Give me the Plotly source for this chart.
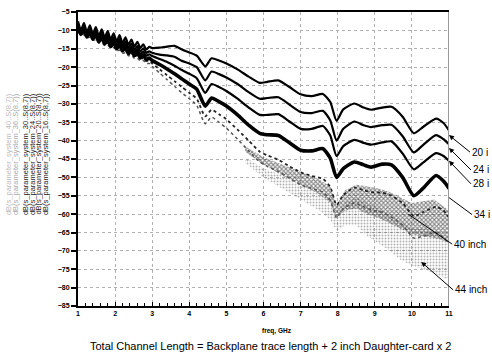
import plotly.graph_objects as go

# ---------------- data ----------------
freq = [1.00, 1.08, 1.16, 1.24, 1.32, 1.40, 1.48, 1.56, 1.64, 1.72, 1.80, 1.88, 1.96, 2.04, 2.12, 2.20, 2.28,
        2.36, 2.44, 2.52, 2.60, 2.68, 2.76, 2.84, 2.92, 3.0,
        3.2, 3.4, 3.6, 3.8, 4.0, 4.2, 4.43, 4.6, 4.8, 5.0, 5.3, 5.6, 5.9, 6.1, 6.4, 6.7, 7.0, 7.3, 7.6, 7.8, 7.97,
        8.15, 8.45, 8.7, 8.9, 9.2, 9.45, 9.75, 10.05, 10.3, 10.65, 10.85, 11.0]

s20 = [-7.5, -10.0, -8.0, -10.5, -8.6, -11.0, -9.1, -11.5, -9.7, -12.0, -10.2, -12.5, -10.8, -13.0, -11.3, -13.5,
       -11.9, -13.9, -12.5, -14.4, -13.1, -14.8, -13.8, -15.2, -14.5, -14.8,
       -14.7, -14.4, -14.2, -15.2, -16.0, -16.9, -19.8, -17.6, -18.2, -19.0, -20.6, -22.6, -24.3, -24.0, -23.6,
       -25.4, -27.4, -27.9, -27.3, -29.5, -34.6, -31.5, -29.9, -31.0, -31.6, -31.0, -30.8, -33.5, -38.0, -36.3,
       -34.0, -35.2, -37.2]
s24 = [-8.2, -10.6, -8.8, -11.1, -9.4, -11.7, -10.0, -12.2, -10.6, -12.8, -11.2, -13.3, -11.8, -13.8, -12.4, -14.3,
       -13.0, -14.8, -13.6, -15.3, -14.3, -15.7, -14.9, -16.1, -15.7, -16.1,
       -16.6, -16.8, -17.2, -18.3, -19.0, -20.0, -23.6, -21.2, -21.9, -22.8, -24.6, -26.8, -28.6, -28.4, -28.2,
       -30.2, -32.2, -32.5, -31.9, -34.5, -40.0, -36.8, -34.8, -35.8, -36.3, -35.8, -35.7, -38.8, -43.2, -41.2,
       -38.5, -39.6, -41.0]
s28 = [-8.6, -10.9, -9.3, -11.5, -9.9, -12.1, -10.6, -12.7, -11.2, -13.3, -11.9, -13.9, -12.5, -14.4, -13.2, -15.0,
       -13.8, -15.5, -14.5, -16.0, -15.1, -16.5, -15.8, -16.9, -16.5, -17.0,
       -17.8, -18.6, -19.6, -20.8, -21.8, -23.0, -27.0, -24.6, -25.4, -26.5, -28.6, -31.0, -33.0, -33.0, -32.8,
       -34.8, -36.8, -36.8, -36.0, -38.6, -44.2, -41.5, -39.8, -40.6, -41.1, -40.5, -40.2, -43.5, -47.8, -46.0,
       -43.4, -44.2, -45.5]
s34 = [-9.0, -11.1, -9.7, -11.8, -10.4, -12.4, -11.1, -13.1, -11.8, -13.7, -12.5, -14.4, -13.2, -15.0, -13.9, -15.6,
       -14.6, -16.3, -15.3, -16.9, -16.0, -17.5, -16.7, -18.0, -17.5, -18.2,
       -19.3, -20.5, -21.8, -23.2, -24.6, -26.0, -30.6, -28.4, -29.4, -30.6, -33.0, -35.8, -38.0, -38.4, -38.6,
       -40.6, -42.6, -42.8, -42.2, -44.8, -50.0, -47.6, -45.8, -46.6, -47.2, -46.4, -46.6, -50.0, -55.0, -53.0,
       -49.5, -51.0, -53.0]
s40 = [-9.8, -10.8, -10.6, -11.5, -11.3, -12.2, -12.0, -12.9, -12.7, -13.6, -13.4, -14.3, -14.1, -15.0, -14.8, -15.6,
       -15.5, -16.3, -16.2, -17.0, -16.9, -17.6, -17.6, -18.3, -18.3, -19.0,
       -20.6, -22.2, -23.8, -25.4, -27.0, -28.6, -33.4, -31.6, -32.8, -34.2, -37.0, -40.0, -43.0, -44.0, -45.2,
       -47.0, -48.6, -49.6, -50.4, -52.6, -57.5, -54.8, -52.8, -53.5, -54.0, -54.2, -55.0, -57.0, -60.5, -59.5,
       -58.0, -59.0, -61.0]
s44 = [-10.4, -11.2, -11.2, -12.0, -11.9, -12.7, -12.6, -13.4, -13.3, -14.1, -14.0, -14.8, -14.7, -15.5, -15.4, -16.2,
       -16.1, -16.9, -16.8, -17.6, -17.5, -18.3, -18.2, -19.0, -19.0, -19.8,
       -21.6, -23.4, -25.2, -27.0, -28.6, -30.4, -35.4, -33.6, -35.0, -36.6, -39.6, -42.8, -45.8, -47.0, -48.4,
       -50.2, -52.0, -53.0, -54.0, -56.2, -61.0, -58.5, -57.0, -58.0, -58.8, -59.5, -60.8, -63.0, -66.5, -66.0,
       -65.0, -66.5, -68.0]

# noisy envelopes of the two longest channels (upper / lower edge of the scatter)
band_freq = [5.5, 6.0, 6.5, 7.0, 7.5, 7.8, 7.97, 8.2, 8.5, 8.8, 9.1, 9.4, 9.7, 10.0, 10.3, 10.6, 10.8, 11.0]
up40 = [-41.5, -44.5, -46.5, -48.5, -50.5, -52.5, -57.5, -53.5, -52.0, -52.5, -53.0, -54.0, -55.5, -57.0, -56.5,
        -56.0, -57.5, -59.0]
low40 = [-43.0, -46.5, -49.5, -52.0, -54.5, -57.0, -61.0, -59.0, -58.5, -60.0, -61.0, -62.5, -64.0, -65.5, -66.0,
         -66.5, -67.0, -68.0]
up44 = [-44.5, -47.5, -49.5, -52.0, -54.0, -56.0, -60.5, -57.0, -55.5, -57.0, -58.5, -60.0, -62.0, -64.0, -64.0,
        -64.5, -65.5, -67.0]
low44 = [-46.0, -50.0, -53.0, -56.0, -59.0, -61.5, -64.5, -63.0, -63.0, -66.0, -68.0, -70.0, -72.5, -74.0, -75.0,
         -76.0, -77.0, -78.0]

labels = ["20 i", "24 i", "28 i", "34 i", "40 inch", "44 inch"]
legend_lines = ["dB(s_parameter_system_40..S(8,7))", "dB(s_parameter_system_36..S(8,7))",
                "dB(s_parameter_system_30..S(8,7))", "dB(s_parameter_system_24..S(8,7))",
                "dB(s_parameter_system_20..S(8,7))", "dB(s_parameter_system_16..S(8,7))"]
x_ticks = list(range(1, 12))
y_ticks = list(range(-85, 0, 5))

# ---------------- figure ----------------
fig = go.Figure()

fig.add_trace(go.Scatter(x=band_freq + band_freq[::-1], y=up44 + low44[::-1], fill="toself", mode="none",
                         fillpattern=dict(shape=".", fgcolor="#666", bgcolor="rgba(255,255,255,0)", size=3, solidity=0.35),
                         showlegend=False, hoverinfo="skip"))
fig.add_trace(go.Scatter(x=band_freq + band_freq[::-1], y=up40 + low40[::-1], fill="toself", mode="none",
                         fillpattern=dict(shape="x", fgcolor="#111", bgcolor="rgba(255,255,255,0)", size=3, solidity=0.6),
                         showlegend=False, hoverinfo="skip"))

def curve(y, color, width, dash="solid"):
    return go.Scatter(x=freq, y=y, mode="lines", showlegend=False,
                      line=dict(color=color, width=width, dash=dash, shape="spline", smoothing=0.6))

fig.add_trace(curve(s44, "#555", 1.5, "dot"))
fig.add_trace(curve(s40, "#222", 1.8, "dot"))
fig.add_trace(curve(s34, "black", 3.6))
fig.add_trace(curve(s28, "black", 2.2))
fig.add_trace(curve(s24, "black", 2.2))
fig.add_trace(curve(s20, "black", 2.2))

tickfont = dict(family="Liberation Sans, Arial, sans-serif", size=7, color="black", weight="bold")

fig.update_layout(
    width=492, height=355,
    margin=dict(l=78, r=43, t=8, b=49),
    paper_bgcolor="white", plot_bgcolor="white",
    font=dict(family="Liberation Sans, Arial, sans-serif", color="black"),
    xaxis=dict(range=[1, 11], tickvals=x_ticks, ticks="inside", ticklen=4, tickwidth=1, tickcolor="black",
               minor=dict(dtick=0.2, ticks="inside", ticklen=3, tickcolor="black", showgrid=False),
               showline=True, linecolor="black", linewidth=2, mirror=True,
               showgrid=True, gridcolor="#b0b0b0", griddash="dot", gridwidth=1,
               tickfont=tickfont, zeroline=False),
    yaxis=dict(range=[-85, -5], tickvals=y_ticks, ticks="outside", ticklen=5, tickwidth=1.5, tickcolor="black",
               showline=True, linecolor="black", linewidth=2,
               showgrid=True, gridcolor="#b0b0b0", griddash="dot", gridwidth=1,
               tickfont=tickfont, zeroline=False),
)

# right border (grey)
fig.add_shape(type="line", xref="x", yref="paper", x0=11, x1=11, y0=0, y1=1, line=dict(color="#999", width=2))

# rotated y-axis legend text
col_x = [8, 15, 25, 32, 38.5, 45]
col_c = ["#bbb", "#aaa", "#222", "#222", "#222", "#222"]
for t, cx, cc in zip(legend_lines, col_x, col_c):
    fig.add_annotation(text=t, xref="paper", yref="paper", x=(cx - 78) / 371, y=(355 - 49 - 152) / 298,
                       showarrow=False, textangle=-90, font=dict(size=7.5, color=cc), xanchor="center", yanchor="middle")

# axis title + caption
fig.add_annotation(text="freq, GHz", xref="paper", yref="paper", x=(277 - 78) / 371, y=(306 - 331) / 298,
                   showarrow=False, font=dict(size=6.5, weight="bold"), xanchor="center", yanchor="middle")
fig.add_annotation(text="Total Channel Length = Backplane trace length + 2 inch Daughter-card x 2",
                   xref="paper", yref="paper", x=(270 - 78) / 371, y=(306 - 347) / 298,
                   showarrow=False, font=dict(size=11), xanchor="center", yanchor="middle")

# curve labels with leader arrows
tips_x = [11.0, 11.0, 11.0, 11.0, 9.9, 10.25]
tips_y = [-38.5, -42.0, -45.5, -55.5, -60.0, -73.0]
offs_x = [21, 22, 22, 23, 44, 32]
offs_y = [17, 22, 23, 17, 30, 28]
heads = [2, 2, 2, 0, 0, 2]
for lab, tx, ty, ox, oy, hd in zip(labels, tips_x, tips_y, offs_x, offs_y, heads):
    fig.add_annotation(text=lab, x=tx, y=ty, xref="x", yref="y", ax=ox, ay=oy, showarrow=True,
                       arrowhead=hd, arrowsize=1, arrowwidth=1, arrowcolor="black",
                       font=dict(size=10, color="black"), xanchor="left")

fig.write_html("out.html")
